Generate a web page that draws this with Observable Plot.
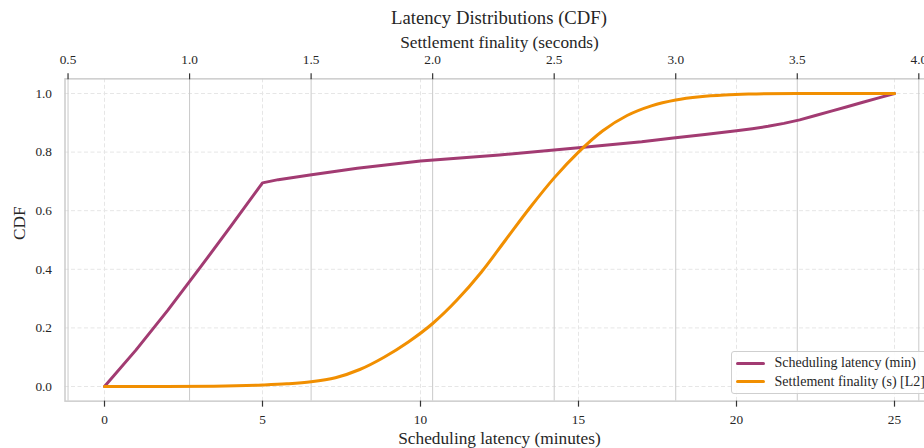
<!DOCTYPE html>
<html><head><meta charset="utf-8">
<script src="https://cdn.jsdelivr.net/npm/d3@7"></script>
<script src="https://cdn.jsdelivr.net/npm/@observablehq/plot@0.6"></script>
<style>
html,body{margin:0;padding:0;background:#fff;overflow:hidden}
#wrap{position:relative;width:924px;height:448px;overflow:hidden;font-family:"Liberation Serif","Times New Roman",serif;color:#262626}
#title{position:absolute;left:64.5px;width:869px;top:4px;height:28px;line-height:28px;text-align:center;font-size:18.7px}
#chart{position:absolute;left:0;top:28px}
#legend{position:absolute;left:730.5px;top:350.5px;width:220px;height:41px;border:1px solid #cfcfcf;border-radius:3px;background:rgba(255,255,255,0.85);font-size:14px}
.row{position:absolute;left:0;height:18px;line-height:18px;white-space:nowrap}
.sw{position:absolute;left:4px;top:7.5px;width:29px;height:3px;border-radius:1.5px}
.lab{position:absolute;left:43px;top:0}
</style></head><body>
<div id="wrap">
  <div id="title">Latency Distributions (CDF)</div>
  <div id="chart"></div>
  <div id="legend">
    <div class="row" style="top:2.5px"><div class="sw" style="background:#A23B72"></div><div class="lab">Scheduling latency (min)</div></div>
    <div class="row" style="top:21px"><div class="sw" style="background:#F18F01"></div><div class="lab">Settlement finality (s) [L2]</div></div>
  </div>
</div>
<script>
// Scheduling latency (minutes) CDF
const schedMinutes = [0, 1, 2, 3, 4, 5, 5.5, 6.5, 8, 10, 12.5, 15, 17, 18, 19, 20, 20.5, 21, 21.5, 22, 22.5, 23, 23.5, 24, 24.5, 25];
const schedCdf     = [0, 0.125, 0.26, 0.402, 0.547, 0.695, 0.706, 0.722, 0.745, 0.77, 0.79, 0.815, 0.835, 0.848, 0.86, 0.873, 0.88, 0.888, 0.898, 0.91, 0.925, 0.94, 0.955, 0.97, 0.985, 1.0];
// Settlement finality (seconds) CDF
const settleSeconds = [0.65, 0.9, 1.1, 1.3, 1.4, 1.5, 1.6, 1.7, 1.8, 1.9, 2.0, 2.1, 2.2, 2.3, 2.4, 2.5, 2.6, 2.7, 2.8, 2.9, 3.0, 3.1, 3.2, 3.3, 3.5, 3.9];
const settleCdf     = [0, 0, 0.001, 0.005, 0.009, 0.016, 0.03, 0.058, 0.1, 0.152, 0.215, 0.295, 0.39, 0.5, 0.61, 0.712, 0.8, 0.873, 0.925, 0.958, 0.978, 0.989, 0.995, 0.998, 1.0, 1.0];
// tick labels
const minuteTicks = [0, 5, 10, 15, 20, 25];
const secondTicks = [0.5, 1.0, 1.5, 2.0, 2.5, 3.0, 3.5, 4.0];
const cdfTicks = [0, 0.2, 0.4, 0.6, 0.8, 1.0];

const purple = "#A23B72", orange = "#F18F01";
const schedRows = schedMinutes.map((m, i) => ({x: m, y: schedCdf[i]}));
const settleRows = settleSeconds.map((s, i) => ({s, y: settleCdf[i]}));

// twin (top) axis: each series' extent fills the same horizontal span
const secToMin = d3.scaleLinear().domain(d3.extent(settleSeconds)).range(d3.extent(schedMinutes));
const span = d3.extent(schedMinutes), pad = (span[1] - span[0]) * 0.05;
const mid = (span[0] + span[1]) / 2;

const font = '"Liberation Serif","Times New Roman",serif';
const chart = Plot.plot({
  width: 924, height: 420,
  marginLeft: 64.5, marginRight: -9.5, marginTop: 50.35, marginBottom: 47.35,
  style: {fontFamily: font, fontSize: "13.3px", color: "#262626", background: "transparent", overflow: "hidden"},
  x: {domain: [span[0] - pad, span[1] + pad]},
  y: {domain: [-0.05, 1.05]},
  marks: [
    Plot.ruleX(minuteTicks, {stroke: "#e6e6e6", strokeWidth: 1, strokeDasharray: "4,2.5"}),
    Plot.ruleY(cdfTicks, {stroke: "#e6e6e6", strokeWidth: 1, strokeDasharray: "4,2.5"}),
    Plot.ruleX(secondTicks, {x: d => secToMin(d), stroke: "#c9c9c9", strokeWidth: 1}),
    Plot.frame({stroke: "#cccccc", strokeWidth: 1.5}),
    Plot.line(schedRows, {x: "x", y: "y", stroke: purple, strokeWidth: 3, curve: "linear", strokeLinejoin: "round"}),
    Plot.line(settleRows, {x: d => secToMin(d.s), y: "y", stroke: orange, strokeWidth: 3, curve: "monotone-x"}),
    Plot.axisX(minuteTicks, {anchor: "bottom", tickSize: 6, tickPadding: 7.5, label: null, stroke: "#333", strokeWidth: 1.2, tickFormat: d => String(d)}),
    Plot.axisX(secondTicks.map(d => secToMin(d)), {anchor: "top", tickSize: 6, tickPadding: 8.5, label: null, stroke: "#333", strokeWidth: 1.2, tickFormat: d => secToMin.invert(d).toFixed(1)}),
    Plot.axisY(cdfTicks, {anchor: "left", tickSize: 0, tickPadding: 13, label: null, tickFormat: d => d.toFixed(1)}),
    Plot.text(["Scheduling latency (minutes)"], {frameAnchor: "bottom", lineAnchor: "middle", x: mid, dy: 37.5, fontSize: 17.3, fill: "#262626"}),
    Plot.text(["Settlement finality (seconds)"], {frameAnchor: "top", lineAnchor: "middle", x: mid, dy: -36.5, fontSize: 17.3, fill: "#262626"}),
    Plot.text(["CDF"], {frameAnchor: "left", lineAnchor: "middle", dx: -46, rotate: -90, fontSize: 17.3, fill: "#262626"})
  ]
});
document.getElementById("chart").appendChild(chart);
</script>
</body></html>
